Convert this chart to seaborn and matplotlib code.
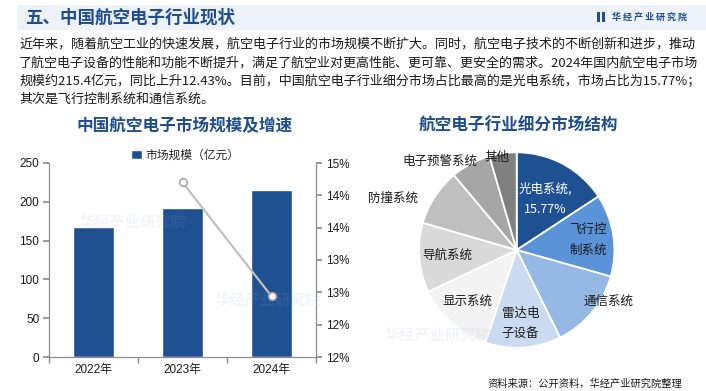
import numpy as np
import pandas as pd
import matplotlib
matplotlib.use('Agg')
import matplotlib.pyplot as plt
import seaborn as sns
from matplotlib.ticker import FuncFormatter, MultipleLocator, FixedLocator
from matplotlib.patches import Rectangle

# ---- data ----
years = ['2022年', '2023年', '2024年']
market_size = [167.7, 191.6, 215.4]          # 亿元
growth_years = ['2023年', '2024年']
growth_rate = [14.70, 12.94]                 # %

segments = ['光电系统', '飞行控制系统', '通信系统', '雷达电子设备', '显示系统',
            '导航系统', '防撞系统', '电子预警系统', '其他']
segment_share = [15.77, 13.6, 13.3, 12.5, 12.8, 11.5, 9.4, 6.6, 4.5]
segment_labels = ['光电系统,\n15.77%', '飞行控\n制系统', '通信系统', '雷达电\n子设备',
                  '显示系统', '导航系统', '防撞系统', '电子预警系统', '其他']

paragraph = [
    '近年来，随着航空工业的快速发展，航空电子行业的市场规模不断扩大。同时，航空电子技术的不断创新和进步，推动',
    '了航空电子设备的性能和功能不断提升，满足了航空业对更高性能、更可靠、更安全的需求。2024年国内航空电子市场',
    '规模约215.4亿元，同比上升12.43%。目前，中国航空电子行业细分市场占比最高的是光电系统，市场占比为15.77%；',
    '其次是飞行控制系统和通信系统。',
]

# ---- style ----
sns.set_theme(style='white')
plt.rcParams['font.family'] = ['Noto Sans CJK SC', 'DejaVu Sans']
NUM = ['Liberation Sans', 'Noto Sans CJK SC']
BLUE = '#1f4e8c'
BAR = '#1f5192'
GRID = '#8c8c8c'
pie_colors = ['#1f5192', '#5b93d9', '#95b8e4', '#c9daf1', '#f2f2f2',
              '#d9d9d9', '#bfbfbf', '#a6a6a6', '#808080']

W, H = 706, 391
fig = plt.figure(figsize=(W / 100, H / 100), dpi=100)
fig.patch.set_facecolor('white')


def fx(px):
    return px / W


def fy(py):
    return 1 - py / H


# header band
fig.patches.append(Rectangle((fx(17), fy(30)), fx(689), 25 / H, transform=fig.transFigure,
                             facecolor='#edf1f8', edgecolor='none', zorder=0))
fig.text(fx(25), fy(17.5), '五、中国航空电子行业现状', fontsize=12.6, fontweight='bold',
         color=BLUE, va='center', ha='left')
fig.patches.append(Rectangle((fx(597), fy(22)), fx(3), 10 / H, transform=fig.transFigure,
                             facecolor=BLUE, edgecolor='none'))
fig.patches.append(Rectangle((fx(602), fy(22)), fx(3), 10 / H, transform=fig.transFigure,
                             facecolor=BLUE, edgecolor='none'))
fig.text(fx(612), fy(17), '华 经 产 业 研 究 院', fontsize=6.5, fontweight='bold',
         color=BLUE, va='center', ha='left')

# paragraph
for i, line in enumerate(paragraph):
    fig.text(fx(19), fy(44.5 + 18.3 * i), line, fontsize=9.4, color='#1a1a1a',
             va='center', ha='left')

# watermarks (kept in empty areas)
for (wx, wy) in [(80, 222), (215, 300), (385, 335)]:
    fig.text(fx(wx), fy(wy), '华经产业研究院', fontsize=11, fontweight='bold',
             color='#9aa9c0', alpha=0.12, ha='left', va='center')

# ---- left: bar + line ----
fig.text(fx(185), fy(126), '中国航空电子市场规模及增速', fontsize=12, fontweight='bold',
         color=BLUE, ha='center', va='center')

ax = fig.add_axes([fx(49), fy(357), 267 / W, 194 / H])
df = pd.DataFrame({'year': years, 'size': market_size})
sns.barplot(data=df, x='year', y='size', color=BAR, width=0.45, saturation=1,
            label='市场规模（亿元）', ax=ax)
ax.set_xlim(-0.5, 2.5)
ax.set_ylim(0, 250)
ax.yaxis.set_major_locator(MultipleLocator(50))
ax.set_xlabel('')
ax.set_ylabel('')
for s in ['top', 'right']:
    ax.spines[s].set_visible(False)
for s in ['left', 'bottom']:
    ax.spines[s].set_color(GRID)
    ax.spines[s].set_linewidth(0.9)
ax.tick_params(axis='y', which='major', direction='out', length=4, color=GRID, left=True,
               labelsize=8.5, pad=3, labelcolor='#1a1a1a')
ax.tick_params(axis='x', which='major', length=0, labelsize=8.5, pad=5, labelcolor='#1a1a1a')
ax.xaxis.set_minor_locator(FixedLocator([-0.5, 0.5, 1.5, 2.5]))
ax.tick_params(axis='x', which='minor', direction='out', length=4, color=GRID, bottom=True)
for lab in ax.get_xticklabels() + ax.get_yticklabels():
    lab.set_family(NUM)
ax.legend(loc='center', bbox_to_anchor=(fx(185), fy(155)), bbox_transform=fig.transFigure,
          frameon=False, fontsize=8.5, handlelength=0.9, handleheight=0.9, handletextpad=0.3)

ax2 = ax.twinx()
growth_x = [years.index(y) for y in growth_years]
sns.lineplot(x=growth_x, y=growth_rate, ax=ax2, color='#bfbfbf', linewidth=1.6,
             marker='o', markersize=5.5, markerfacecolor='white',
             markeredgecolor='#a6a6a6', markeredgewidth=1.2, legend=False)
ax2.set_xlim(-0.5, 2.5)
ax2.set_ylim(12, 15)
ax2.yaxis.set_major_locator(MultipleLocator(0.5))
ax2.yaxis.set_major_formatter(FuncFormatter(lambda v, _: f'{int(np.floor(v + 1e-9))}%'))
for s in ['top', 'left', 'bottom']:
    ax2.spines[s].set_visible(False)
ax2.spines['right'].set_color(GRID)
ax2.spines['right'].set_linewidth(0.9)
ax2.tick_params(axis='y', direction='out', length=4, color=GRID, right=True,
                labelsize=8.5, pad=3, labelcolor='#1a1a1a')
for lab in ax2.get_yticklabels():
    lab.set_family(NUM)
ax2.set_ylabel('')

# ---- right: pie ----
fig.text(fx(518), fy(126), '航空电子行业细分市场结构', fontsize=12, fontweight='bold',
         color=BLUE, ha='center', va='center')

R = 97.7
half = 135
pax = fig.add_axes([fx(516.7 - half), fy(250 + half), 2 * half / W, 2 * half / H])
wedges, _ = pax.pie(segment_share, colors=pie_colors, startangle=90, counterclock=False,
                    radius=1, wedgeprops=dict(edgecolor='white', linewidth=1.3))
pax.set_xlim(-half / R, half / R)
pax.set_ylim(-half / R, half / R)
pax.axis('off')

label_pos = [(0.60, 61), (0.74, 8), (1.08, -30), (0.75, -87), (0.73, -134),
             (0.71, -176), (1.37, 157.5), (1.20, 131), (0.97, 102)]
for lab, (r, th), col in zip(segment_labels, label_pos, pie_colors):
    t = np.deg2rad(th)
    tc = 'white' if col == pie_colors[0] else '#1a1a1a'
    pax.text(r * np.cos(t), r * np.sin(t), lab, ha='center', va='center', fontsize=9,
             color=tc, linespacing=1.75, family=['Noto Sans CJK SC', 'DejaVu Sans'])

fig.text(fx(487), fy(383.5), '资料来源：公开资料，华经产业研究院整理', fontsize=7.4,
         color='#1a1a1a', ha='left', va='center')

fig.savefig('out.png', dpi=100)
